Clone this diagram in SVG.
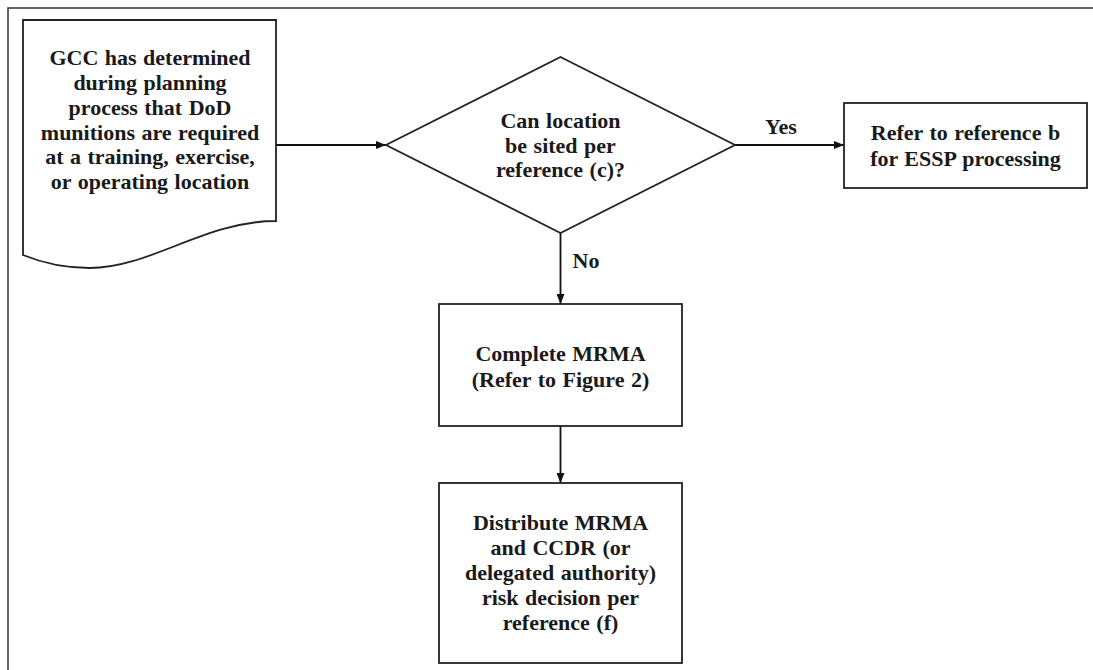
<svg xmlns="http://www.w3.org/2000/svg" width="1093" height="670" viewBox="0 0 1093 670">
<style>
.shape{fill:#fff;stroke:#222;stroke-width:1.8}
.conn{fill:none;stroke:#111;stroke-width:1.8}
.t{font-family:"Liberation Serif","Times New Roman",serif;font-weight:bold;font-size:22px;fill:#1a1a1a;text-anchor:middle;word-spacing:1px}
</style>
<defs>
<marker id="ah" viewBox="0 0 10 8" refX="10" refY="4" markerWidth="10" markerHeight="8" markerUnits="userSpaceOnUse" orient="auto">
<path d="M0,0 L10,4 L0,8 Z" fill="#111"/>
</marker>
</defs>
<rect width="1093" height="670" fill="#fff"/>
<path d="M8,670 V8 H1093" fill="none" stroke="#333" stroke-width="1.5"/>
<g id="connectors">
<line class="conn" x1="276" y1="145" x2="386" y2="145" marker-end="url(#ah)"/>
<line class="conn" x1="735" y1="145" x2="844" y2="145" marker-end="url(#ah)"/>
<line class="conn" x1="560.5" y1="233" x2="560.5" y2="304" marker-end="url(#ah)"/>
<line class="conn" x1="560.5" y1="426" x2="560.5" y2="483" marker-end="url(#ah)"/>
<text class="t" x="781" y="134">Yes</text>
<text class="t" x="586" y="268">No</text>
</g>
<g id="start">
<path class="shape" d="M23,20 H276 V221 C205,221 150,268 90,268 C60,268 40,262 23,255 Z"/>
<text class="t" x="150" y="65">GCC has determined</text>
<text class="t" x="150" y="90">during planning</text>
<text class="t" x="150" y="115">process that DoD</text>
<text class="t" x="150" y="140">munitions are required</text>
<text class="t" x="150" y="164">at a training, exercise,</text>
<text class="t" x="150" y="189">or operating location</text>
</g>
<g id="decision">
<path class="shape" d="M560.5,57 L735,145 L560.5,233 L386,145 Z"/>
<text class="t" x="560.5" y="128">Can location</text>
<text class="t" x="560.5" y="153">be sited per</text>
<text class="t" x="560.5" y="177">reference (c)?</text>
</g>
<g id="essp">
<rect class="shape" x="844" y="103" width="243" height="85"/>
<text class="t" x="965.5" y="140">Refer to reference b</text>
<text class="t" x="965.5" y="166">for ESSP processing</text>
</g>
<g id="mrma">
<rect class="shape" x="439" y="304" width="243" height="122"/>
<text class="t" x="560.5" y="361">Complete MRMA</text>
<text class="t" x="560.5" y="387">(Refer to Figure 2)</text>
</g>
<g id="distribute">
<rect class="shape" x="439" y="483" width="243" height="180"/>
<text class="t" x="560.5" y="530">Distribute MRMA</text>
<text class="t" x="560.5" y="555">and CCDR (or</text>
<text class="t" x="560.5" y="580">delegated authority)</text>
<text class="t" x="560.5" y="605">risk decision per</text>
<text class="t" x="560.5" y="630">reference (f)</text>
</g>
</svg>
